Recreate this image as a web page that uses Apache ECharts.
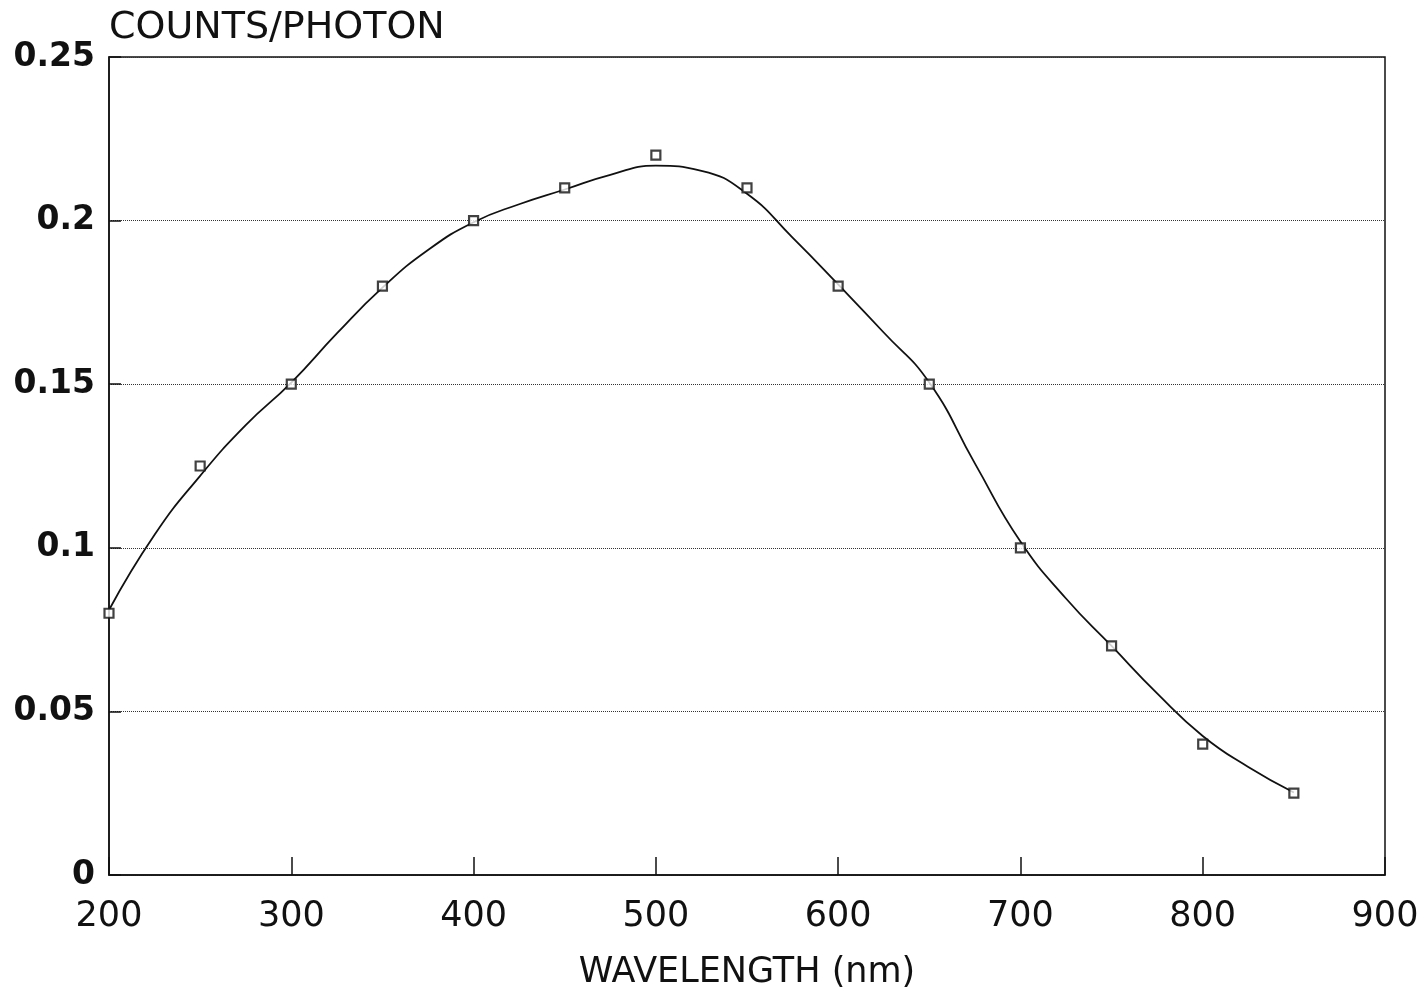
<!DOCTYPE html>
<html>
<head>
<meta charset="utf-8">
<script src="https://cdn.jsdelivr.net/npm/echarts@6/dist/echarts.min.js"></script>
<style>
html,body{margin:0;padding:0;background:#fff;}
#chart{width:1428px;height:993px;}
</style>
</head>
<body>
<div id="chart"></div>
<script>
// Measured data points (wavelength nm, counts/photon)
const wavelengths = [200, 250, 300, 350, 400, 450, 500, 550, 600, 650, 700, 750, 800, 850];
const counts = [0.08, 0.125, 0.15, 0.18, 0.2, 0.21, 0.22, 0.21, 0.18, 0.15, 0.1, 0.07, 0.04, 0.025];

// Fitted curve
const fitX = [200,225,250,275,300,325,350,375,400,425,450,475,500,525,550,575,600,625,650,675,700,725,750,775,800,825,850];
const fitY = [0.081,0.104,0.122,0.1375,0.1505,0.1655,0.1795,0.191,0.1995,0.205,0.2095,0.214,0.2168,0.2152,0.2082,0.1948,0.1805,0.1658,0.1505,0.1258,0.1019,0.0845,0.0700,0.0555,0.0425,0.0330,0.0252];

const titleText = 'COUNTS/PHOTON';
const xName = 'WAVELENGTH (nm)';

const chart = echarts.init(document.getElementById('chart'), null, {renderer: 'canvas'});
const ink = '#111';
chart.setOption({
  backgroundColor: '#fff',
  animation: false,
  title: {
    text: titleText,
    left: 104, top: 4,
    textStyle: {fontFamily: 'DejaVu Sans', fontSize: 38, fontWeight: 'normal', color: ink}
  },
  grid: {
    left: 109, right: 43, top: 57, bottom: 118,
    outerBoundsMode: 'none', containLabel: false,
    show: true, borderColor: ink, borderWidth: 1.5, backgroundColor: 'transparent'
  },
  xAxis: {
    type: 'value', min: 200, max: 900, interval: 100,
    name: xName, nameLocation: 'middle', nameGap: 80,
    nameTextStyle: {fontFamily: 'DejaVu Sans', fontSize: 35, color: ink},
    axisLine: {show: true, lineStyle: {color: ink, width: 1.5}},
    axisTick: {show: true, inside: true, length: 18, lineStyle: {color: ink, width: 1.5}},
    axisLabel: {fontFamily: 'DejaVu Sans', fontSize: 35, color: ink, margin: 24},
    splitLine: {show: false}
  },
  yAxis: {
    type: 'value', min: 0, max: 0.25, interval: 0.05,
    axisLine: {show: true, lineStyle: {color: ink, width: 1.5}},
    axisTick: {show: true, inside: true, length: 12, lineStyle: {color: ink, width: 1.5}},
    axisLabel: {fontFamily: 'DejaVu Sans', fontWeight: 'bold', fontSize: 33, color: ink, margin: 14},
    splitLine: {show: true, lineStyle: {color: '#333', type: 'dotted', width: 1}}
  },
  series: [
    {
      type: 'line',
      data: fitX.map((x, i) => [x, fitY[i]]),
      smooth: 0.5,
      showSymbol: false,
      symbol: 'none',
      lineStyle: {color: ink, width: 1.8},
      z: 2
    },
    {
      type: 'scatter',
      data: wavelengths.map((x, i) => [x, counts[i]]),
      symbol: 'rect',
      symbolSize: 9,
      itemStyle: {color: '#fff', borderColor: ink, borderWidth: 2.2},
      z: 3
    }
  ]
});
</script>
</body>
</html>
